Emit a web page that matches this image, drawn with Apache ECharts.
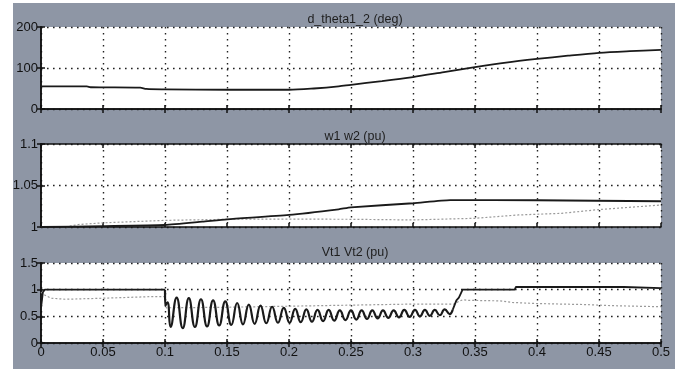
<!DOCTYPE html>
<html>
<head>
<meta charset="utf-8">
<script src="https://cdn.jsdelivr.net/npm/echarts@6/dist/echarts.min.js"></script>
<style>
html,body{margin:0;padding:0;background:#fff;}
#c{width:679px;height:371px;}
</style>
</head>
<body>
<div id="c"></div>
<script>
// ---- data ----
const titles = ['d_theta1_2 (deg)', 'w1 w2 (pu)', 'Vt1 Vt2 (pu)'];
const xTickLabels = ['0','0.05','0.1','0.15','0.2','0.25','0.3','0.35','0.4','0.45','0.5'];
const thetaTickLabels = ['0','100','200'];
const wTickLabels = ['1','1.05','1.1'];
const vtTickLabels = ['0','0.5','1','1.5'];

// d_theta1_2 (deg)
const thetaT = [0, 0.037, 0.04, 0.08, 0.085, 0.1, 0.15, 0.2, 0.22, 0.24, 0.25, 0.275, 0.3, 0.325, 0.35, 0.375, 0.4, 0.425, 0.45, 0.475, 0.5];
const thetaV = [55, 55, 53, 52, 49, 48, 47, 47, 50, 55, 59, 68, 78, 90, 102, 113, 122, 130, 137, 141, 144];

// w1 (black)
const w1T = [0, 0.05, 0.1, 0.13, 0.15, 0.2, 0.24, 0.25, 0.3, 0.33, 0.4, 0.5];
const w1V = [1.0, 1.001, 1.0024, 1.0064, 1.0093, 1.0145, 1.0213, 1.0237, 1.0286, 1.0325, 1.0322, 1.031];
// w2 (grey)
const w2T = [0.02, 0.03, 0.05, 0.1, 0.15, 0.2, 0.25, 0.3, 0.35, 0.385, 0.42, 0.45, 0.5];
const w2V = [1.0, 1.003, 1.005, 1.008, 1.0093, 1.0095, 1.0093, 1.0085, 1.0105, 1.0145, 1.0165, 1.021, 1.0265];

// Vt1 (black): before fault, oscillation extrema, after clearing
const vt1PreT = [0, 0.0015, 0.003, 0.1];
const vt1PreV = [0.66, 0.95, 1.0, 1.0];
const vt1OscT = [0.1, 0.1002, 0.102, 0.1045, 0.1094, 0.1143, 0.1192, 0.1241, 0.129, 0.1339, 0.1388, 0.1437, 0.1486, 0.1535,
  0.1582, 0.1629, 0.1676, 0.1723, 0.177, 0.1817, 0.1864, 0.1911, 0.1958, 0.2005,
  0.205, 0.2095, 0.214, 0.2185, 0.223, 0.2275, 0.232, 0.2365, 0.241, 0.2455, 0.25,
  0.2543, 0.2586, 0.2629, 0.2672, 0.2715, 0.2758, 0.2801, 0.2844, 0.2887, 0.293, 0.2973, 0.3016,
  0.3056, 0.3096, 0.3136, 0.3176, 0.3216, 0.3256, 0.3296, 0.332];
const vt1OscV = [1.0, 0.70, 0.76, 0.30, 0.85, 0.28, 0.84, 0.30, 0.82, 0.31, 0.80, 0.33, 0.78, 0.34,
  0.75, 0.35, 0.72, 0.36, 0.70, 0.37, 0.68, 0.38, 0.66, 0.38,
  0.64, 0.39, 0.63, 0.40, 0.62, 0.41, 0.62, 0.42, 0.61, 0.43, 0.61,
  0.44, 0.61, 0.45, 0.61, 0.46, 0.61, 0.47, 0.61, 0.48, 0.62, 0.49, 0.62,
  0.50, 0.62, 0.51, 0.62, 0.52, 0.63, 0.54, 0.62];
const vt1PostT = [0.332, 0.335, 0.337, 0.340, 0.382, 0.383, 0.47, 0.471, 0.5];
const vt1PostV = [0.62, 0.80, 0.85, 1.0, 1.0, 1.05, 1.05, 1.03, 1.03];

// Vt2 (grey)
const vt2T = [0, 0.003, 0.008, 0.02, 0.05, 0.09, 0.1, 0.101, 0.15, 0.2, 0.25, 0.3, 0.333, 0.337, 0.34, 0.345, 0.37, 0.38, 0.4, 0.44, 0.46, 0.5];
const vt2V = [0.95, 0.90, 0.84, 0.82, 0.84, 0.87, 0.87, 0.66, 0.67, 0.69, 0.71, 0.73, 0.73, 0.78, 0.81, 0.80, 0.79, 0.76, 0.74, 0.72, 0.70, 0.68];

// ---- chart ----
const zip = (t, v) => t.map((x, i) => [x, v[i]]);
const chart = echarts.init(document.getElementById('c'), null, {renderer: 'canvas'});

const gridBoxes = [
  {left: 41, top: 27, width: 620, height: 82},
  {left: 41, top: 144, width: 620, height: 83},
  {left: 41, top: 263, width: 620, height: 80}
];
const yRanges = [
  {min: 0, max: 200, interval: 100, labels: thetaTickLabels},
  {min: 1, max: 1.1, interval: 0.05, labels: wTickLabels},
  {min: 0, max: 1.5, interval: 0.5, labels: vtTickLabels}
];
const titleTops = [8, 125, 241];

const dotted = {color: '#222', width: 1.4, type: [1.6, 4.4]};
const axisLineStyle = {color: '#111', width: 1.5};
const font = 'Liberation Sans';

const xAxes = [], yAxes = [];
gridBoxes.forEach((g, i) => {
  xAxes.push({
    gridIndex: i, type: 'value', min: 0, max: 0.5, interval: 0.05, position: 'bottom',
    axisLine: {show: true, lineStyle: axisLineStyle},
    axisTick: {show: true, inside: true, length: 4, lineStyle: {color: '#111', width: 1.5}},
    splitLine: {show: true, lineStyle: dotted},
    axisLabel: {
      show: i === 2, margin: 3, color: '#111', fontFamily: font, fontSize: 13,
      formatter: v => xTickLabels[Math.round(v / 0.05)]
    }
  });
  xAxes.push({
    gridIndex: i, type: 'value', min: 0, max: 0.5, interval: 0.05, position: 'top',
    axisLine: {show: true, lineStyle: axisLineStyle},
    axisTick: {show: true, inside: true, length: 4, lineStyle: {color: '#111', width: 1.5}},
    splitLine: {show: false}, axisLabel: {show: false}
  });
  const r = yRanges[i];
  yAxes.push({
    gridIndex: i, type: 'value', min: r.min, max: r.max, interval: r.interval, position: 'left',
    axisLine: {show: true, lineStyle: axisLineStyle},
    axisTick: {show: true, inside: true, length: 4, lineStyle: {color: '#111', width: 1.5}},
    splitLine: {show: true, lineStyle: dotted},
    axisLabel: {
      show: true, margin: 3, color: '#111', fontFamily: font, fontSize: 13,
      formatter: v => r.labels[Math.round((v - r.min) / r.interval)]
    }
  });
  yAxes.push({
    gridIndex: i, type: 'value', min: r.min, max: r.max, interval: r.interval, position: 'right',
    axisLine: {show: true, lineStyle: axisLineStyle},
    axisTick: {show: true, inside: true, length: 4, lineStyle: {color: '#111', width: 1.5}},
    splitLine: {show: false}, axisLabel: {show: false}
  });
});

const line = (name, gi, data, opts) => Object.assign({
  name, type: 'line', xAxisIndex: gi * 2, yAxisIndex: gi * 2, data,
  showSymbol: false, symbol: 'none', animation: false, z: 3,
  lineStyle: {color: '#1a1a1a', width: 1.8}
}, opts || {});

const greyStyle = {color: '#9a9a9a', width: 1.2, type: [2, 2]};

chart.setOption({
  animation: false,
  backgroundColor: '#ffffff',
  graphic: [
    {type: 'rect', shape: {x: 13, y: 3, width: 662, height: 366}, style: {fill: '#8e96a5'}, z: -10, silent: true},
    ...gridBoxes.map(g => ({type: 'rect', shape: {x: g.left, y: g.top, width: g.width, height: g.height}, style: {fill: '#ffffff'}, z: -9, silent: true}))
  ],
  title: titles.map((t, i) => ({
    text: t, left: 350, top: titleTops[i], textAlign: 'center',
    textStyle: {fontFamily: font, fontSize: 12.5, fontWeight: 'normal', color: '#1e1e1e'}
  })),
  grid: gridBoxes.map(g => Object.assign({containLabel: false}, g)),
  xAxis: xAxes,
  yAxis: yAxes,
  series: [
    line('d_theta1_2', 0, zip(thetaT, thetaV), {smooth: 0.3}),
    line('w2', 1, zip(w2T, w2V), {lineStyle: greyStyle}),
    line('w1', 1, zip(w1T, w1V), {smooth: 0.2}),
    line('Vt2', 2, zip(vt2T, vt2V), {lineStyle: greyStyle}),
    line('Vt1', 2, zip(vt1PreT, vt1PreV)),
    line('Vt1 osc', 2, zip(vt1OscT, vt1OscV), {smooth: 0.5, lineStyle: {color: '#1a1a1a', width: 2.2}}),
    line('Vt1 post', 2, zip(vt1PostT, vt1PostV))
  ]
});
</script>
</body>
</html>
